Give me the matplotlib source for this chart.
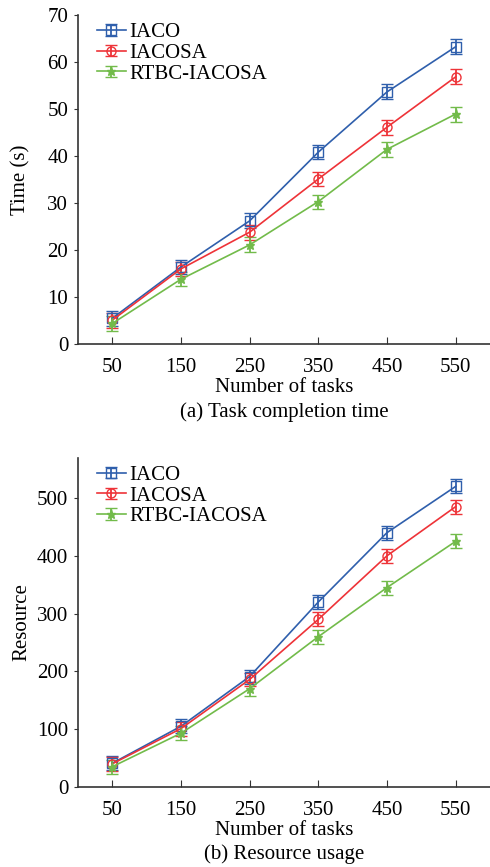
import matplotlib
matplotlib.use("Agg")
import matplotlib.pyplot as plt
from matplotlib.legend_handler import HandlerErrorbar
from matplotlib.container import ErrorbarContainer

tasks = [50, 150, 250, 350, 450, 550]
tick_labels = ["50", "150", "250", "350", "450", "550"]
series_names = ["IACO", "IACOSA", "RTBC-IACOSA"]

time_iaco = [5.5, 16.4, 26.2, 40.8, 53.6, 63.2]
time_iacosa = [5.1, 16.0, 23.8, 35.1, 46.1, 56.8]
time_rtbc = [4.4, 13.8, 21.1, 30.3, 41.4, 48.9]
time_err = [1.6, 1.5, 1.6, 1.5, 1.6, 1.6]

res_iaco = [41, 105, 191, 320, 440, 520]
res_iacosa = [40, 101, 186, 290, 400, 485]
res_rtbc = [35, 93, 170, 260, 345, 425]
res_err = [12, 12, 12, 12, 12, 12]

colors = ["#2F5FAC", "#EE3338", "#72BB4A"]
markers = ["s", "o", "*"]

plt.rcParams['font.family'] = ['Liberation Serif', 'DejaVu Serif']
FS = 15

fig = plt.figure(figsize=(4.9, 8.67), dpi=100)
ax1 = fig.add_axes([0.159, 0.603, 0.841, 0.380])
ax2 = fig.add_axes([0.159, 0.0923, 0.841, 0.380])

def draw(ax, ys, err, ylim, yticks, ylabel, caption, lpad):
    for y, c, m, n in zip(ys, colors, markers, series_names):
        ax.errorbar(tasks, y, yerr=err, color=c, marker=m, markersize=6.5,
                    markerfacecolor='none' if m != '*' else c, markeredgewidth=1.0,
                    linewidth=1.2, capsize=4, capthick=1.3, elinewidth=1.3, label=n)
    ax.set_xlim(0, 600)
    ax.set_ylim(*ylim)
    ax.set_xticks(tasks)
    ax.set_xticklabels(tick_labels)
    ax.set_yticks(yticks)
    for s in ["top", "right"]:
        ax.spines[s].set_visible(False)
    for s in ["left", "bottom"]:
        ax.spines[s].set_color("#333333")
        ax.spines[s].set_linewidth(1.2)
    ax.tick_params(axis='x', direction='in', length=5, labelsize=FS, pad=10, color="#333333")
    ax.tick_params(axis='y', direction='out', length=3, labelsize=FS, pad=4, color="#333333")
    ax.set_xlabel("Number of tasks", fontsize=FS, labelpad=1)
    ax.set_ylabel(ylabel, fontsize=FS, labelpad=lpad)
    ax.text(0.5, -0.205, caption, transform=ax.transAxes, ha='center',
            va='center', fontsize=FS)
    ax.legend(loc='upper left', bbox_to_anchor=(0.01, 1.02), frameon=False, fontsize=FS,
              handlelength=1.4, handletextpad=0.15, labelspacing=0.05, borderaxespad=0.3,
              handler_map={ErrorbarContainer: HandlerErrorbar(xerr_size=0.27, yerr_size=0.27)})

draw(ax1, [time_iaco, time_iacosa, time_rtbc], time_err, (0, 70), [0, 10, 20, 30, 40, 50, 60, 70],
     "Time (s)", "(a) Task completion time", 12)
draw(ax2, [res_iaco, res_iacosa, res_rtbc], res_err, (0, 570), [0, 100, 200, 300, 400, 500],
     "Resource", "(b) Resource usage", 4)

fig.savefig("out.png", dpi=100)
